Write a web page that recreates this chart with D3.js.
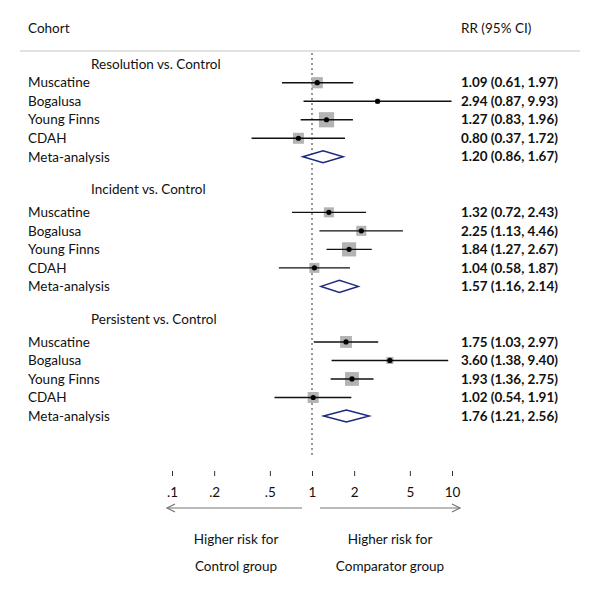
<!DOCTYPE html>
<html>
<head>
<meta charset="utf-8">
<script src="https://cdn.jsdelivr.net/npm/d3@7"></script>
<style>
  html, body { margin: 0; padding: 0; background: #fff; }
  svg text { font-family: Lato, "Open Sans", sans-serif; fill: #111; }
</style>
</head>
<body>
<svg id="chart" width="597" height="600"></svg>
<script>
// ---- data ----
const groups = ["Resolution vs. Control", "Incident vs. Control", "Persistent vs. Control"];
const cohorts = ["Muscatine", "Bogalusa", "Young Finns", "CDAH"];
const metaLabel = "Meta-analysis";
const rr    = [[1.09, 2.94, 1.27, 0.80], [1.32, 2.25, 1.84, 1.04], [1.75, 3.60, 1.93, 1.02]];
const lower = [[0.61, 0.87, 0.83, 0.37], [0.72, 1.13, 1.27, 0.58], [1.03, 1.38, 1.36, 0.54]];
const upper = [[1.97, 9.93, 1.96, 1.72], [2.43, 4.46, 2.67, 1.87], [2.97, 9.40, 2.75, 1.91]];
const weight = [[25, 5, 46, 24], [20, 20, 40, 20], [28, 10, 38, 24]];
const metaRR    = [1.20, 1.57, 1.76];
const metaLower = [0.86, 1.16, 1.21];
const metaUpper = [1.67, 2.14, 2.56];
const tickValues = [0.1, 0.2, 0.5, 1, 2, 5, 10];
const tickLabels = [".1", ".2", ".5", "1", "2", "5", "10"];

// ---- layout ----
const svg = d3.select("#chart");
const x = d3.scaleLog().domain([0.1, 10]).range([172, 452]);
const y = d3.scaleLinear().domain([0, 19]).range([64.2, 416]);
const boxSide = d3.scaleSqrt().domain([0, 46]).range([0, 15.2]);
const fmt = d3.format(".2f");
const labelX = 28, valueX = 461, fs = 13.5;

// fit bold value font so a typical value string is ~97px wide
const probe = svg.append("text").attr("font-size", fs).attr("font-weight", "bold")
  .text(`${fmt(rr[0][0])} (${fmt(lower[0][0])}, ${fmt(upper[0][0])})`);
const vfs = Math.min(fs, fs * 97 / probe.node().getComputedTextLength());
probe.remove();

// header
svg.append("text").attr("x", labelX).attr("y", 28).attr("dy", "0.35em")
  .attr("font-size", fs).text("Cohort");
svg.append("text").attr("x", valueX).attr("y", 28).attr("dy", "0.35em")
  .attr("font-size", fs).text("RR (95% CI)");
svg.append("line").attr("x1", 20).attr("x2", 580).attr("y1", 51).attr("y2", 51)
  .attr("stroke", "#d9d9d9").attr("stroke-width", 1.5);

// reference line at 1
svg.append("line").attr("x1", x(1)).attr("x2", x(1)).attr("y1", 53).attr("y2", 455)
  .attr("stroke", "#333").attr("stroke-width", 1).attr("stroke-dasharray", "2,3");

const headerIdx = [0, 6.75, 13.75];
const firstRowIdx = [1, 8, 15];

groups.forEach((g, gi) => {
  svg.append("text").attr("x", 91).attr("y", y(headerIdx[gi])).attr("dy", "0.35em")
    .attr("font-size", fs).text(g);

  cohorts.forEach((c, ci) => {
    const yy = y(firstRowIdx[gi] + ci);
    svg.append("text").attr("x", labelX).attr("y", yy).attr("dy", "0.35em")
      .attr("font-size", fs).text(c);
    const s = boxSide(weight[gi][ci]);
    svg.append("rect").attr("x", x(rr[gi][ci]) - s / 2).attr("y", yy - s / 2)
      .attr("width", s).attr("height", s).attr("fill", "#b3b3b3");
    svg.append("line").attr("x1", x(lower[gi][ci])).attr("x2", x(upper[gi][ci]))
      .attr("y1", yy).attr("y2", yy).attr("stroke", "#111").attr("stroke-width", 1.4);
    svg.append("circle").attr("cx", x(rr[gi][ci])).attr("cy", yy).attr("r", 2.6)
      .attr("fill", "#000");
    svg.append("text").attr("x", valueX).attr("y", yy).attr("dy", "0.35em")
      .attr("font-size", vfs).attr("font-weight", "bold")
      .text(`${fmt(rr[gi][ci])} (${fmt(lower[gi][ci])}, ${fmt(upper[gi][ci])})`);
  });

  const my = y(firstRowIdx[gi] + 4);
  svg.append("text").attr("x", labelX).attr("y", my).attr("dy", "0.35em")
    .attr("font-size", fs).text(metaLabel);
  const h = 6;
  svg.append("path")
    .attr("d", `M${x(metaLower[gi])},${my} L${x(metaRR[gi])},${my - h} L${x(metaUpper[gi])},${my} L${x(metaRR[gi])},${my + h} Z`)
    .attr("fill", "#fff").attr("stroke", "#1b2a7e").attr("stroke-width", 1.5);
  svg.append("text").attr("x", valueX).attr("y", my).attr("dy", "0.35em")
    .attr("font-size", vfs).attr("font-weight", "bold")
    .text(`${fmt(metaRR[gi])} (${fmt(metaLower[gi])}, ${fmt(metaUpper[gi])})`);
});

// axis
const axis = d3.axisBottom(x).tickValues(tickValues)
  .tickFormat((d, i) => tickLabels[i]).tickSize(5).tickPadding(11);
const ag = svg.append("g").attr("transform", "translate(0,471)").call(axis);
ag.select(".domain").remove();
ag.selectAll(".tick line").attr("stroke", "#333");
ag.selectAll(".tick text").attr("font-size", fs).attr("font-family", "Lato, sans-serif").attr("fill", "#111");

// arrows
const arrowY = 508;
const arrowColor = "#777";
function arrow(x1, x2) {
  svg.append("line").attr("x1", x1).attr("x2", x2).attr("y1", arrowY).attr("y2", arrowY)
    .attr("stroke", arrowColor).attr("stroke-width", 1.2);
  const d = x2 > x1 ? -1 : 1;
  svg.append("path").attr("d", `M${x2 + d * 8},${arrowY - 4} L${x2},${arrowY} L${x2 + d * 8},${arrowY + 4}`)
    .attr("fill", "none").attr("stroke", arrowColor).attr("stroke-width", 1.2);
}
arrow(302, 167);
arrow(320, 460);

const notes = [["Higher risk for", "Control group", 236], ["Higher risk for", "Comparator group", 390]];
notes.forEach(n => {
  svg.append("text").attr("x", n[2]).attr("y", 539).attr("dy", "0.35em").attr("text-anchor", "middle")
    .attr("font-size", fs).text(n[0]);
  svg.append("text").attr("x", n[2]).attr("y", 566).attr("dy", "0.35em").attr("text-anchor", "middle")
    .attr("font-size", fs).text(n[1]);
});
</script>
</body>
</html>
